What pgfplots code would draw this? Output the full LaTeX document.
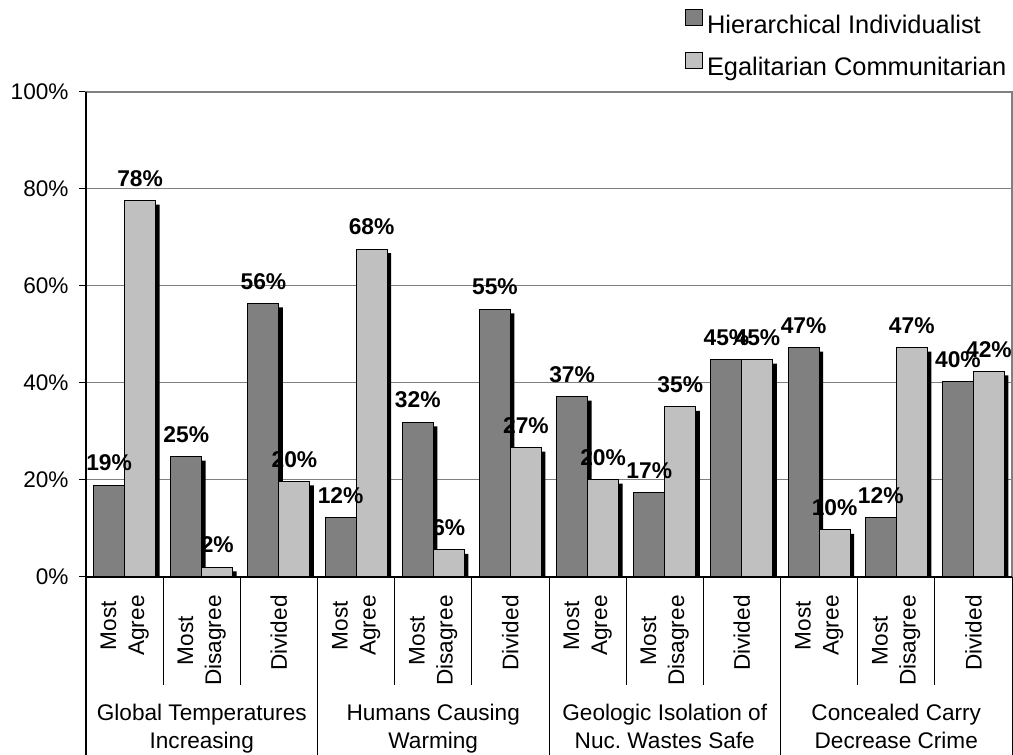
\documentclass[border=0pt]{standalone}
\usepackage{fontspec}
\setmainfont{Liberation Sans}
\usepackage{pgfplots}
\pgfplotsset{compat=1.18}

\definecolor{hiGray}{HTML}{808080}
\definecolor{ecGray}{HTML}{C0C0C0}
\definecolor{ruleGray}{HTML}{808080}

% one category slot = 463pt / 12
\newcommand{\cw}{38.5833pt}

\begin{document}
\begin{tikzpicture}[font=\fontsize{11.3}{14}\selectfont,
  shadowed/.style={preaction={fill=black, draw=none, transform canvas={xshift=2pt, yshift=-2pt}}}]
\begin{axis}[
    at={(0,0)}, anchor=south west,
    scale only axis, width=463pt, height=242.5pt,
    ybar, bar width=15.5pt,
    xmin=-0.5, xmax=11.5, ymin=0, ymax=100,
    xtick=\empty,
    ytick={0,20,...,100},
    yticklabels={0\%,20\%,40\%,60\%,80\%,100\%},
    yticklabel style={xshift=-1.7pt},
    tick align=outside, major tick length=3.5pt,
    y tick style={black, line width=0.5pt},
    ymajorgrids, grid style={ruleGray, line width=0.5pt},
    axis line style={ruleGray, line width=0.6pt},
    /pgf/number format/assume math mode=true,
    nodes near coords={\pgfmathprintnumber[fixed,precision=0]{\pgfplotspointmeta}\%},
    every node near coord/.append style={font=\bfseries\fontsize{11.4}{14}\selectfont, text=black, yshift=3.5pt},
    legend image code/.code={\draw[#1, line width=0.5pt] (0pt,0.3pt) rectangle (8.3pt,8.3pt);},
    legend style={draw=none, fill=none, at={(0.6469,1.1711)}, anchor=north west,
        inner sep=0pt, row sep=7pt, font=\fontsize{12.7}{15}\selectfont,
        nodes={inner sep=0pt, text height=9pt, text depth=2.5pt},
        /tikz/every odd column/.append style={column sep=2pt}},
    legend cell align=left,
]

% Hierarchical Individualist
\addplot[forget plot, bar shift=-7.75pt, fill=hiGray, draw=black, line width=0.5pt, shadowed] coordinates {
(0,18.9) (1,24.8) (2,56.4) (3,12.2) (4,31.9) (5,55.2)
(6,37.2) (7,17.4) (8,44.8) (9,47.3) (10,12.2) (11,40.3)
};

% Egalitarian Communitarian
\addplot[forget plot, bar shift=7.75pt, fill=ecGray, draw=black, line width=0.5pt, shadowed] coordinates {
(0,77.6) (1,2.0) (2,19.7) (3,67.6) (4,5.6) (5,26.7)
(6,20.1) (7,35.1) (8,44.8) (9,9.7) (10,47.3) (11,42.4)
};

\addlegendimage{fill=hiGray, draw=black}
\addlegendentry{Hierarchical Individualist}
\addlegendimage{fill=ecGray, draw=black}
\addlegendentry{Egalitarian Communitarian}
\end{axis}

% category axis: dark left and bottom lines, separators
\draw[black, line width=0.6pt] (0,242.5pt) -- (0,-89pt);
\draw[black, line width=0.6pt] (0,0) -- (463pt,0);
\foreach \k in {1,2,4,5,7,8,10,11}
  \draw[black, line width=0.5pt] ({\k*\cw},0) -- ++(0,-54pt);
\foreach \k in {3,6,9,12}
  \draw[black, line width=0.5pt] ({\k*\cw},0) -- ++(0,-89pt);

% answer labels
\foreach \k/\t in {0/{Most\\Agree},1/{Most\\Disagree},2/Divided,
                   3/{Most\\Agree},4/{Most\\Disagree},5/Divided,
                   6/{Most\\Agree},7/{Most\\Disagree},8/Divided,
                   9/{Most\\Agree},10/{Most\\Disagree},11/Divided}
  \node[rotate=90, anchor=east, align=center, inner sep=0pt] at ({(\k+0.5)*\cw},-9pt) {\t};

% question labels
\foreach \g/\a/\b in {0/Global Temperatures/Increasing, 1/Humans Causing/Warming,
                      2/Geologic Isolation of/{Nuc.\ Wastes Safe}, 3/Concealed Carry/Decrease Crime}{
  \node[anchor=base, inner sep=0pt] at ({(3*\g+1.5)*\cw},-71.75pt) {\a};
  \node[anchor=base, inner sep=0pt] at ({(3*\g+1.5)*\cw},-86pt) {\b};
}

\pgfresetboundingbox
\useasboundingbox (-43pt,-89pt) rectangle (463.5pt,288.5pt);
\end{tikzpicture}
\end{document}
